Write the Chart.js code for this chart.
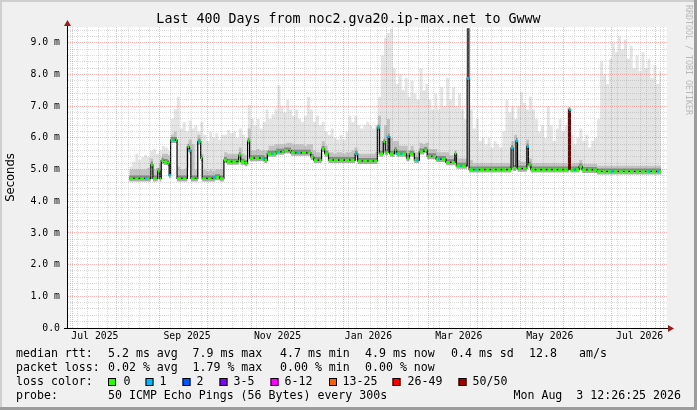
<!DOCTYPE html>
<html><head><meta charset="utf-8">
<script src="https://cdn.jsdelivr.net/npm/chart.js@4/dist/chart.umd.min.js"></script>
<style>html,body{margin:0;padding:0;background:#f0f0f0;}canvas{display:block;}</style>
</head><body>
<canvas id="c" width="697" height="410"></canvas>
<script>
// ---------- texts ----------
const titleText = 'Last 400 Days from noc2.gva20.ip-max.net to Gwww';
const yAxisTitle = 'Seconds';
const watermark = 'RRDTOOL / TOBI OETIKER';

// ---------- time axis (days since 1 Jul 2025) ----------
const axisMinDay = -1.48, axisMaxDay = 398.52;
const monthStartDays = [0,31,62,92,123,153,184,215,243,274,304,335,365,396];
const labelDays = [14.7,76.9,138.1,199.5,260.5,322.0,382.7];
const labelTexts = ['Jul 2025','Sep 2025','Nov 2025','Jan 2026','Mar 2026','May 2026','Jul 2026'];
const firstMondayDay = -1;

// ---------- value axis (ms) ----------
const yMax = 9.5;
const yMajorLabels = ['0.0','1.0 m','2.0 m','3.0 m','4.0 m','5.0 m','6.0 m','7.0 m','8.0 m','9.0 m'];

// ---------- median rtt (step points) ----------
const medianDays = [37.85,52.52,53.85,57.19,58.52,59.52,61.19,63.85,64.85,65.85,70.19,77.19,78.52,79.52,84.19,86.19,87.19,95.85,99.19,101.85,103.85,111.85,113.19,115.85,117.85,119.19,129.19,131.19,137.19,142.52,147.19,160.52,162.52,167.85,169.85,172.52,190.52,192.19,205.52,206.85,209.52,210.85,212.85,213.85,217.19,218.52,225.19,227.19,230.52,233.85,237.19,239.19,245.19,251.85,257.85,258.85,266.19,267.52,295.85,297.19,299.19,300.19,306.52,307.52,309.19,334.85,335.85,341.85,343.85,353.85,397.19];
const medianVals = [4.72,5.15,4.72,4.95,4.72,5.28,5.24,5.2,4.82,5.93,4.72,5.72,5.6,4.72,5.88,5.36,4.72,4.76,4.72,5.3,5.25,5.45,5.25,5.2,5.9,5.36,5.3,5.5,5.56,5.6,5.53,5.4,5.3,5.65,5.5,5.3,5.5,5.27,6.33,5.5,5.88,5.55,6.04,5.5,5.62,5.5,5.36,5.5,5.3,5.57,5.62,5.42,5.33,5.23,5.5,5.12,7.88,5.0,5.68,5.05,5.9,5.03,5.73,5.15,5.0,6.88,5.0,5.1,4.99,4.94,4.94];

// ---------- smoke (2-day columns starting day 38) ----------
const smokeStartDay = 38, smokeStepDays = 2;
const smokeMax = [
5.1,5.25,5.5,5.3,5.4,5.45,5.4,5.6,5.65,5.5,
5.6,5.75,5.7,5.6,6.6,6.9,7.3,6.3,6.5,6.2,
6.55,6.3,6.4,6.2,6.5,6.1,5.9,6.2,6.0,6.15,
5.95,6.1,6.1,6.25,6.15,6.2,6.0,6.3,6.1,6.0,
7.05,6.6,6.4,6.6,6.3,6.5,6.9,6.6,6.75,6.9,
7.65,7.0,6.8,7.2,6.9,6.7,6.9,6.6,6.5,6.7,
7.3,6.9,6.5,6.7,6.4,6.5,6.2,6.1,6.3,6.0,
5.95,6.1,5.95,6.2,6.7,6.5,6.7,6.4,6.3,6.4,
6.5,6.4,6.3,6.4,7.3,8.6,9.15,9.3,9.45,8.2,
7.7,8.0,7.5,7.9,7.3,7.8,7.4,7.2,8.2,7.5,
7.7,7.2,6.9,7.4,6.9,7.6,7.0,7.9,7.2,7.6,
7.0,7.4,6.9,6.6,9.45,6.9,6.3,6.6,5.9,6.0,
5.8,6.0,5.7,5.9,5.8,5.7,6.2,7.2,6.8,7.0,
6.6,7.0,7.45,7.1,6.9,7.3,6.9,6.6,6.2,6.4,
6.0,7.0,6.4,5.9,6.3,6.6,6.2,6.4,6.95,6.1,
5.8,6.0,6.3,5.9,6.1,5.7,5.9,6.0,6.6,8.4,
8.0,7.7,8.5,9.0,8.7,9.2,8.8,9.1,8.5,8.9,
8.2,8.6,8.1,8.7,8.2,8.5,7.9,8.3,7.7,8.1,
8.0];
const smokeMid = [
5.0,5.0,5.0,5.0,5.0,5.0,5.05,5.35,5.0,5.05,
5.2,5.5,5.5,5.45,6.1,6.2,5.1,5.0,5.0,5.05,
5.95,5.8,5.0,6.1,5.5,5.0,4.95,5.0,4.95,5.0,
5.0,5.0,5.55,5.5,5.5,5.5,5.5,5.7,5.5,5.45,
6.3,5.6,5.6,5.65,5.6,5.6,5.6,5.75,5.75,5.8,
5.8,5.8,5.8,5.85,5.85,5.8,5.8,5.8,5.8,5.75,
5.8,5.8,5.6,5.55,5.55,5.9,5.75,5.55,5.55,5.5,
5.55,5.55,5.5,5.55,5.55,5.6,5.7,5.5,5.5,5.5,
5.5,5.5,5.5,5.55,6.7,5.9,6.4,6.6,6.0,5.9,
5.9,5.75,5.75,5.75,5.6,5.75,5.55,5.55,5.85,5.8,
5.85,5.65,5.65,5.65,5.55,5.55,5.55,5.55,5.45,5.45,
5.5,5.35,5.35,5.35,9.45,5.3,5.2,5.2,5.2,5.2,
5.2,5.2,5.2,5.2,5.2,5.2,5.2,5.2,5.2,5.9,
6.1,5.3,5.25,5.25,5.95,5.35,5.2,5.2,5.2,5.2,
5.2,5.2,5.2,5.2,5.2,5.2,5.2,5.2,6.95,5.2,
5.2,5.2,5.3,5.18,5.18,5.18,5.18,5.18,5.12,5.12,
5.12,5.12,5.12,5.12,5.12,5.12,5.12,5.12,5.12,5.12,
5.12,5.12,5.12,5.12,5.12,5.12,5.12,5.12,5.12,5.12,
5.12];

// ---------- loss markers ----------
const loss1Days = [49.19,65.19,67.85,78.52,85.19,95.85,128.52,134.52,138.52,151.85,191.19,206.52,212.52,218.52,221.85,232.52,247.19,261.85,267.19,271.85,296.52,299.85,307.19,335.85,338.52,363.85,389.19,395.19];
const loss1Vals = [4.72,4.82,5.93,5.6,5.88,4.76,5.36,5.5,5.56,5.53,5.5,6.33,6.04,5.5,5.5,5.3,5.33,5.12,7.88,5.0,5.68,5.9,5.73,6.88,5.0,4.94,4.94,4.94];
const loss50Days = [335.35];
const loss50Low = [5.0];
const loss50High = [6.88];
const streakDays = [266.85];
const streakLow = [7.88];
const streakHigh = [9.45];

// ---------- legend texts ----------
const statsRtt = ['5.2 ms avg','7.9 ms max','4.7 ms min','4.9 ms now','0.4 ms sd','12.8','am/s'];
const statsLoss = ['0.02 % avg','1.79 % max','0.00 % min','0.00 % now'];
const lossLabels = ['0','1','2','3-5','6-12','13-25','26-49','50/50'];
const lossColors = ['#26ff00','#00b8ff','#0059ff','#7e00ff','#ff00ff','#ff5e00','#ff0000','#a10000'];
const probeText = '50 ICMP Echo Pings (56 Bytes) every 300s';
const stampText = 'Mon Aug  3 12:26:25 2026';

// ---------- build ----------
const MONO = '"DejaVu Sans Mono", monospace';
const medianPts = medianDays.map((d,i)=>({x:d,y:medianVals[i]}));
const flatPts = [];
for (let i=0;i<medianDays.length-1;i++){
  flatPts.push({x:medianDays[i],y:medianVals[i]},{x:medianDays[i+1],y:medianVals[i]},{x:medianDays[i+1],y:null});
}
const smokeMaxPts = smokeMax.map((v,i)=>({x:smokeStartDay+i*smokeStepDays,y:v}));
const smokeMidPts = smokeMid.map((v,i)=>({x:smokeStartDay+i*smokeStepDays,y:v}));
const xTickVals = [];
for (let d=firstMondayDay; d<=axisMaxDay; d+=7) xTickVals.push(d);
monthStartDays.forEach(d=>{ if(!xTickVals.includes(d)) xTickVals.push(d); });
labelDays.forEach(d=>xTickVals.push(d));
xTickVals.sort((a,b)=>a-b);
const yTickVals = [];
for (let k=0;k<=47;k++) yTickVals.push(k/5);
const MINOR = 'rgba(140,140,140,0.32)', MAJOR = 'rgba(240,70,70,0.40)';

const MEDIAN_IDX = 3;
const bgPlugin = {
  id:'bg',
  beforeDraw(chart){
    const {ctx, chartArea:a} = chart;
    ctx.save();
    ctx.fillStyle='#f0f0f0'; ctx.fillRect(0,0,697,410);
    ctx.fillStyle='#ffffff'; ctx.fillRect(a.left,a.top,a.right-a.left,a.bottom-a.top);
    ctx.fillStyle='#cfcfcf'; ctx.fillRect(0,0,697,2); ctx.fillRect(0,0,2,410);
    ctx.fillStyle='#9c9c9c'; ctx.fillRect(694,0,3,410); ctx.fillRect(0,407,697,3);
    ctx.restore();
  },
  afterDraw(chart){
    const {ctx, chartArea:a} = chart;
    ctx.save();
    ctx.strokeStyle='#000'; ctx.lineWidth=1;
    ctx.beginPath(); ctx.moveTo(a.left+0.5,a.top); ctx.lineTo(a.left+0.5,a.top-3); ctx.stroke();
    ctx.beginPath(); ctx.moveTo(a.left-3,a.bottom+0.5); ctx.lineTo(a.right+2,a.bottom+0.5); ctx.stroke();
    ctx.fillStyle='#9a1c1c';
    ctx.beginPath(); ctx.moveTo(a.left-3,a.top-1); ctx.lineTo(a.left+4,a.top-1); ctx.lineTo(a.left+0.5,a.top-7); ctx.closePath(); ctx.fill();
    ctx.beginPath(); ctx.moveTo(a.right+1,a.bottom-3); ctx.lineTo(a.right+1,a.bottom+4); ctx.lineTo(a.right+7,a.bottom+0.5); ctx.closePath(); ctx.fill();
    ctx.fillStyle='#000'; ctx.font='11.6px '+MONO; ctx.textBaseline='middle'; ctx.textAlign='left';
    ctx.fillText('median rtt:',16,354);
    const rttX=[108,192.5,280,365,451,529,579];
    statsRtt.forEach((t,i)=>ctx.fillText(t,rttX[i],354));
    ctx.fillText('packet loss:',16,368);
    statsLoss.forEach((t,i)=>ctx.fillText(t,rttX[i],368));
    ctx.fillText('loss color:',16,382);
    const boxX=[108,145.5,182.5,219.5,270.5,329,392.5,458.5];
    const txtX=[123.5,159.5,196.5,233.5,284.5,342.5,407.5,472.5];
    lossLabels.forEach((t,i)=>{
      ctx.fillStyle=lossColors[i]; ctx.fillRect(boxX[i],378,8,8);
      ctx.strokeStyle='#000'; ctx.strokeRect(boxX[i]+0.5,378.5,7,7);
      ctx.fillStyle='#000'; ctx.fillText(t,txtX[i],382);
    });
    ctx.fillText('probe:',16,396);
    ctx.fillText(probeText,108,396);
    ctx.textAlign='right'; ctx.fillText(stampText,681,396);
    ctx.translate(688,5); ctx.rotate(Math.PI/2);
    ctx.textAlign='left'; ctx.fillStyle='#b8b8b8'; ctx.font='8.3px '+MONO;
    ctx.fillText(watermark,0,0);
    ctx.restore();
  }
};

new Chart(document.getElementById('c'), {
  type:'line',
  data:{datasets:[
    {type:'line', label:'loss 1', data:loss1Days.map((d,i)=>({x:d,y:loss1Vals[i]})), showLine:false, pointStyle:'rect', pointRadius:1.6, pointBackgroundColor:'#00b8ff', pointBorderWidth:0, order:1},
    {type:'bar', label:'loss 50', data:loss50Days.map((d,i)=>({x:d,y:[loss50Low[i],loss50High[i]]})), backgroundColor:'#7a0000', barThickness:2, grouped:false, order:2},
    {type:'line', label:'median loss 0', data:flatPts, borderColor:'#26ff00', borderWidth:2.6, borderDash:[4,1.5], pointRadius:0, spanGaps:false, order:3},
    {type:'line', label:'median', data:medianPts, stepped:true, borderColor:'#000', borderWidth:1.2, pointRadius:0, order:4},
    {type:'bar', label:'streak', data:streakDays.map((d,i)=>({x:d,y:[streakLow[i],streakHigh[i]]})), backgroundColor:'#444', barThickness:2, grouped:false, order:5},
    {type:'line', label:'shadow', data:flatPts, borderColor:'rgba(40,40,40,0.38)', borderWidth:6, pointRadius:0, spanGaps:false, order:6},
    {type:'line', label:'smoke mid', data:smokeMidPts, stepped:true, borderColor:'transparent', borderWidth:0, pointRadius:0, fill:MEDIAN_IDX, backgroundColor:'#c2c2c2', order:7},
    {type:'line', label:'smoke', data:smokeMaxPts, stepped:true, borderColor:'transparent', borderWidth:0, pointRadius:0, fill:MEDIAN_IDX, backgroundColor:'#e4e4e4', order:8}
  ]},
  options:{
    responsive:false, maintainAspectRatio:false, animation:false, devicePixelRatio:1, events:[],
    layout:{padding:0},
    plugins:{
      legend:{display:false}, tooltip:{enabled:false},
      title:{display:true, text:titleText, color:'#000', font:{family:MONO, size:13.3, weight:'normal', lineHeight:'15px'}, padding:{top:12,bottom:0}}
    },
    scales:{
      x:{type:'linear', position:'bottom', min:axisMinDay, max:axisMaxDay,
        afterBuildTicks:s=>{s.ticks=xTickVals.map(v=>({value:v}));},
        afterFit:s=>{s.height=82;},
        ticks:{autoSkip:false, maxRotation:0, padding:3, color:'#000', font:{family:MONO,size:9.8},
          callback:v=>{const k=labelDays.indexOf(v); return k>=0?labelTexts[k]:'';}},
        grid:{z:1, drawTicks:false, lineWidth:1, color:c=>{const v=c.tick&&c.tick.value; if(labelDays.includes(v)) return 'rgba(0,0,0,0)'; return monthStartDays.includes(v)?MAJOR:MINOR;}},
        border:{display:true, color:'#000', width:1, z:2, dash:[1,1]}
      },
      y:{type:'linear', position:'left', min:0, max:yMax,
        afterBuildTicks:s=>{s.ticks=yTickVals.map(v=>({value:v}));},
        afterFit:s=>{s.width=67;},
        ticks:{autoSkip:false, padding:7, color:'#000', font:{family:MONO,size:9.8},
          callback:(v,i)=>i%5===0?yMajorLabels[i/5]:''},
        grid:{z:1, drawTicks:false, lineWidth:1, color:c=>(c.index%5===0)?MAJOR:MINOR},
        border:{display:true, color:'#000', width:1, z:2, dash:[1,1]},
        title:{display:true, text:yAxisTitle, color:'#000', font:{family:'"DejaVu Sans", sans-serif', size:11.6}, padding:{top:4,bottom:0}}
      },
      yRight:{type:'linear', position:'right', display:true, afterFit:s=>{s.width=30;},
        ticks:{display:false}, grid:{display:false}, border:{display:false}}
    }
  },
  plugins:[bgPlugin]
});
</script>
</body></html>
